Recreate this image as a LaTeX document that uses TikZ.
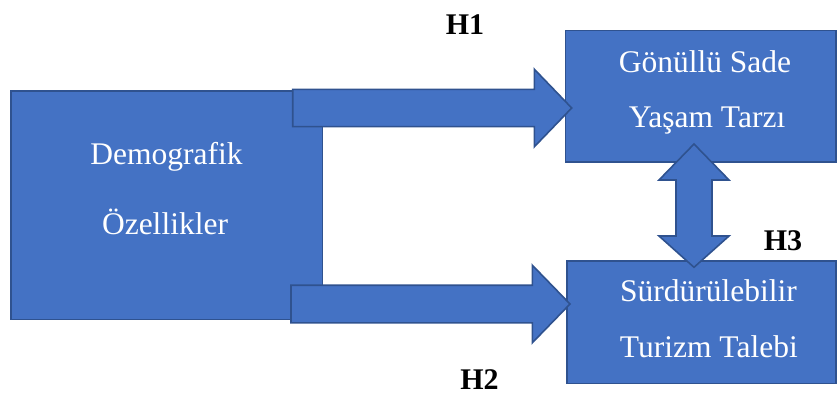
\documentclass[tikz,border=0pt]{standalone}
\usepackage{fontspec}
\setmainfont{Liberation Serif}
\definecolor{boxblue}{HTML}{4472C4}
\definecolor{boxedge}{HTML}{2F528F}
\tikzset{
  bluebox/.style={fill=boxblue, draw=boxedge, line width=1.6pt},
  blockarrow/.style={fill=boxblue, draw=boxedge, line width=1.6pt, line join=miter},
  boxtext/.style={text=white, font=\rmfamily\fontsize{31.5}{38}\selectfont, inner sep=0pt, anchor=base},
  hlabel/.style={text=black, font=\rmfamily\fontsize{30}{36}\selectfont\bfseries, inner sep=0pt, anchor=base}
}
\begin{document}
\begin{tikzpicture}[x=1pt,y=-1pt]
\useasboundingbox (0,0) rectangle (837,396);
% boxes
\draw[bluebox] (10.7,90.7) rectangle (322.3,319.3);
\draw[bluebox] (565.5,30.7) rectangle (836,161.7);
\draw[bluebox] (567,260.7) rectangle (836,383.3);
% arrow H1
\draw[blockarrow] (292.7,89.4) -- (534.3,89.4) -- (534.3,69.2) -- (571.7,108) -- (534.3,146.8) -- (534.3,126.6) -- (292.7,126.6) -- cycle;
% arrow H2
\draw[blockarrow] (291,285.2) -- (532.3,285.2) -- (532.3,265.2) -- (570,304) -- (532.3,342.8) -- (532.3,322.8) -- (291,322.8) -- cycle;
% double arrow H3
\draw[blockarrow] (694,144) -- (729,180) -- (712,180) -- (712,236) -- (729,236) -- (694,267.3) -- (659,236) -- (676,236) -- (676,180) -- (659,180) -- cycle;
% texts
\node[boxtext] (t1) at (166.5,164) {Demografik};
\node[boxtext] (t2) at (165,234) {Özellikler};
\node[boxtext] (t3) at (705,72.3) {Gönüllü Sade};
\node[boxtext] (t4) at (707,127) {Yaşam Tarzı};
\node[boxtext] (t5) at (708.5,301) {Sürdürülebilir};
\node[boxtext] (t6) at (708.8,357.3) {Turizm Talebi};
% labels
\node[hlabel] (h1) at (465,34.3) {H1};
\node[hlabel] (h2) at (479.5,389.5) {H2};
\node[hlabel] (h3) at (783,250) {H3};
\end{tikzpicture}
\end{document}
